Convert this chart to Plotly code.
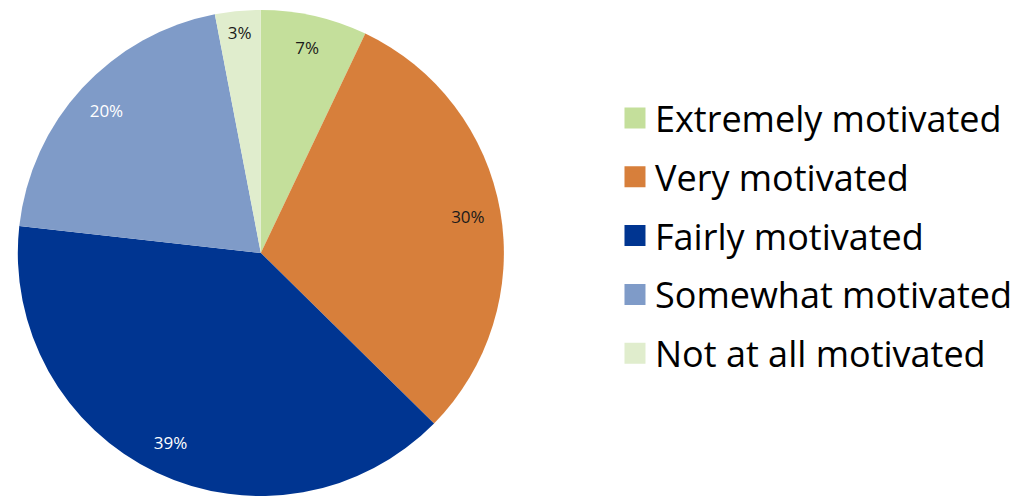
import plotly.graph_objects as go

labels = ["Extremely motivated", "Very motivated", "Fairly motivated",
          "Somewhat motivated", "Not at all motivated"]
values = [7, 30, 39, 20, 3]
colors = ["#C4DF9B", "#D77F3B", "#003591", "#7F9BC8", "#E0EDCD"]
text_colors = ["#1a1a1a", "#1a1a1a", "#ffffff", "#ffffff", "#1a1a1a"]

pie_domain = dict(x=[0.013, 0.493], y=[0.0, 0.98])

fig = go.Figure()

# coloured slices
fig.add_trace(go.Pie(
    labels=labels, values=values, sort=False, direction="clockwise", rotation=0,
    marker=dict(colors=colors, line=dict(width=0)),
    textinfo="none", domain=pie_domain, showlegend=False,
    hoverinfo="label+value",
))

# transparent ring carrying the percentage labels near the outer edge
fig.add_trace(go.Pie(
    labels=labels, values=values, sort=False, direction="clockwise", rotation=0,
    hole=0.73,
    marker=dict(colors=["rgba(0,0,0,0)"] * len(values), line=dict(width=0)),
    texttemplate="%{value}%",
    textposition="inside",
    insidetextorientation="horizontal",
    textfont=dict(family="Open Sans", size=17, color=text_colors),
    domain=pie_domain, showlegend=False, hoverinfo="skip",
))

# legend entries (square swatches)
for lab, col in zip(labels, colors):
    fig.add_trace(go.Scatter(
        x=[None], y=[None], mode="markers", name=lab, legendgroup=lab,
        marker=dict(symbol="square", size=16, color=col, line=dict(width=5, color=col)),
    ))

fig.update_layout(
    width=1031, height=496,
    margin=dict(l=0, r=0, t=0, b=0),
    paper_bgcolor="white",
    plot_bgcolor="white",
    xaxis=dict(visible=False),
    yaxis=dict(visible=False),
    showlegend=True,
    legend=dict(
        x=0.5965, y=0.525, xanchor="left", yanchor="middle",
        font=dict(family="Open Sans", size=36, color="#000000"),
        tracegroupgap=9,
        itemwidth=30,
        bgcolor="rgba(0,0,0,0)",
    ),
)

fig.write_html("out.html")
